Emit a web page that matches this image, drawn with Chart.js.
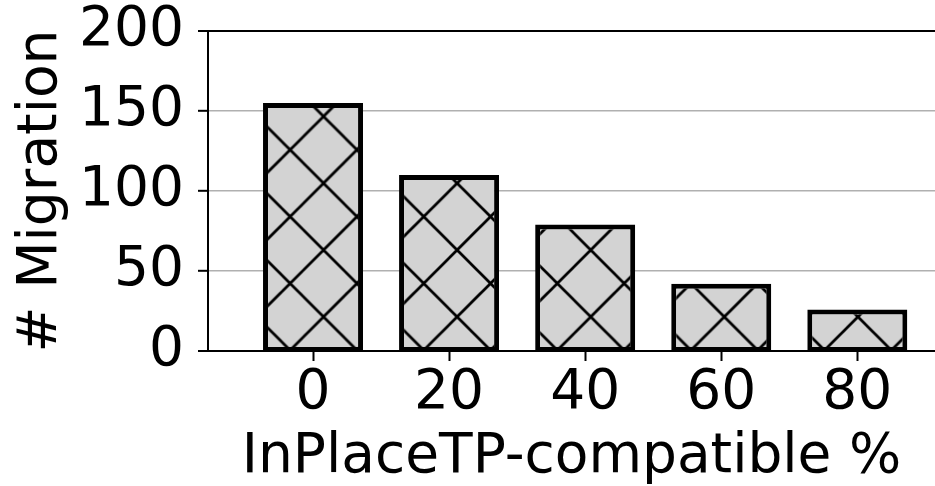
<!DOCTYPE html>
<html>
<head>
<meta charset="utf-8">
<script src="https://cdn.jsdelivr.net/npm/chart.js@4/dist/chart.umd.min.js"></script>
<style>
  html, body { margin: 0; padding: 0; background: #ffffff; overflow: hidden; }
  canvas { display: block; }
</style>
</head>
<body>
<canvas id="c" width="935" height="486"></canvas>
<script>
// ---- data ----
const categories = ['0', '20', '40', '60', '80'];
const positions = [0, 1, 2, 3, 4];
const migrations = [155, 110, 79, 42, 26];
const yTicks = [0, 50, 100, 150, 200];
const xTitle = 'InPlaceTP-compatible %';
const yTitle = '# Migration';

// ---- hatch pattern ('x' hatch on light gray) ----
function makeHatch() {
  const P = 67;
  const t = document.createElement('canvas');
  t.width = P; t.height = P;
  const g = t.getContext('2d');
  g.fillStyle = '#d3d3d3';
  g.fillRect(0, 0, P, P);
  g.strokeStyle = '#000000';
  g.lineWidth = 2.8;
  g.beginPath();
  for (const d of [-P, 0, P]) {
    g.moveTo(d, 0); g.lineTo(d + P, P);
    g.moveTo(d, P); g.lineTo(d + P, 0);
  }
  g.stroke();
  const pat = document.getElementById('c').getContext('2d').createPattern(t, 'repeat');
  const s = 66.8 / 67;
  pat.setTransform(new DOMMatrix([s, 0, 0, s, 56.3, 49.6]));
  return pat;
}
const hatch = makeHatch();

const FONT = 'DejaVu Sans';

new Chart(document.getElementById('c'), {
  type: 'bar',
  data: {
    datasets: [{
      data: positions.map((x, i) => ({ x: x, y: migrations[i] })),
      backgroundColor: hatch,
      borderColor: '#000000',
      borderWidth: { top: 5, left: 5, right: 5, bottom: 3 },
      borderSkipped: false,
      categoryPercentage: 1.0,
      barPercentage: 0.735,
      inflateAmount: 0
    }]
  },
  options: {
    responsive: false,
    animation: false,
    layout: { padding: { top: 31, left: 0, right: 0, bottom: 0 } },
    plugins: { legend: { display: false }, tooltip: { enabled: false } },
    scales: {
      x: {
        type: 'linear',
        min: -0.772,
        max: 4.571,
        offset: false,
        z: 1,
        afterBuildTicks: (s) => { s.ticks = positions.map(v => ({ value: v })); },
        afterFit: (s) => { s.height = 135; },
        ticks: {
          callback: (v) => categories[positions.indexOf(v)],
          color: '#000000',
          font: { family: FONT, size: 55, lineHeight: 1.0 },
          padding: 5,
          maxRotation: 0,
          autoSkip: false
        },
        grid: {
          offset: false,
          drawOnChartArea: false,
          drawTicks: true,
          tickLength: 10,
          tickColor: '#000000',
          tickWidth: 2,
          color: '#000000'
        },
        border: { display: true, color: '#000000', width: 2 },
        title: {
          display: true,
          text: xTitle,
          color: '#000000',
          font: { family: FONT, size: 55, lineHeight: 1.0 },
          padding: { top: 8, bottom: 1 }
        }
      },
      y: {
        min: 0,
        max: 200,
        z: 1,
        afterBuildTicks: (s) => { s.ticks = yTicks.map(v => ({ value: v })); },
        afterFit: (s) => { s.width = 208; },
        ticks: {
          color: '#000000',
          font: { family: FONT, size: 55, lineHeight: 0.6 },
          padding: 14
        },
        grid: {
          drawTicks: true,
          tickLength: 10,
          tickColor: '#000000',
          tickWidth: 2,
          color: (ctx) => (ctx.tick && (ctx.tick.value === 200 || ctx.tick.value === 0)) ? '#000000' : '#b0b0b0',
          lineWidth: (ctx) => (ctx.tick && (ctx.tick.value === 200 || ctx.tick.value === 0)) ? 2 : 1.6
        },
        border: { display: true, color: '#000000', width: 2 },
        title: {
          display: true,
          text: yTitle,
          color: '#000000',
          font: { family: FONT, size: 55, lineHeight: 1.2 },
          padding: { top: 9, bottom: 4 }
        }
      }
    }
  }
});
</script>
</body>
</html>
